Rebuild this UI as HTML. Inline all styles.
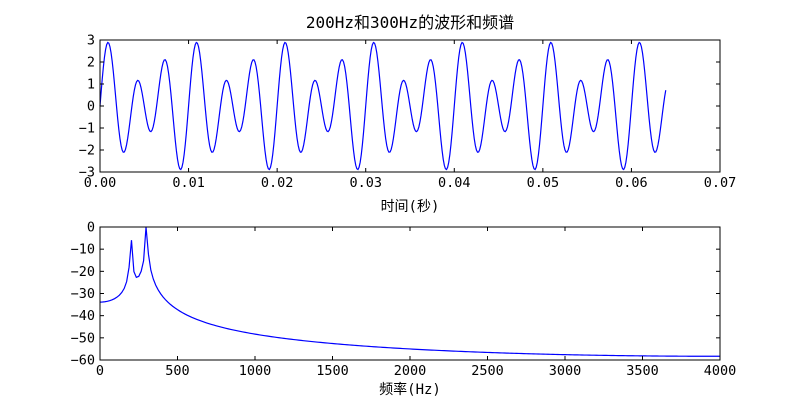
<!DOCTYPE html>
<html><head><meta charset="utf-8"><style>
body{margin:0;background:#fff;}
svg{display:block;font-family:"DejaVu Sans Mono","Liberation Mono","Noto Sans CJK SC",monospace;}
</style></head><body>
<svg id="s" width="800" height="400" xmlns="http://www.w3.org/2000/svg">
<rect width="800" height="400" fill="#fff"/>
<text x="410" y="28" font-size="16" text-anchor="middle" font-family="DejaVu Sans Mono,Noto Sans CJK SC,monospace">200Hz和300Hz的波形和频谱</text>
<g id="g"></g>
</svg>
<script>
var g=document.getElementById('g'),h='';
function ax(x0,y0,x1,y1,xt,xl,yt,yl,xs,ys){
  h+='<rect x="'+x0+'" y="'+y0+'" width="'+(x1-x0)+'" height="'+(y1-y0)+'" fill="none" stroke="#000" stroke-width="1"/>';
  xt.forEach(function(v,i){var x=xs(v);h+='<line x1="'+x+'" y1="'+y1+'" x2="'+x+'" y2="'+(y1-4)+'" stroke="#000"/><line x1="'+x+'" y1="'+y0+'" x2="'+x+'" y2="'+(y0+4)+'" stroke="#000"/>';
    h+='<text x="'+x+'" y="'+(y1+15)+'" font-size="13.5" text-anchor="middle">'+xl[i]+'</text>';});
  yt.forEach(function(v,i){var y=ys(v);h+='<line x1="'+x0+'" y1="'+y+'" x2="'+(x0+4)+'" y2="'+y+'" stroke="#000"/><line x1="'+x1+'" y1="'+y+'" x2="'+(x1-4)+'" y2="'+y+'" stroke="#000"/>';
    h+='<text x="'+(x0-5)+'" y="'+(y+4.5)+'" font-size="13.5" text-anchor="end">'+yl[i]+'</text>';});
}
var N=512,fs=8000,sig=[];
for(var n=0;n<N;n++){var t=n/fs;sig.push(Math.sin(2*Math.PI*200*t)+2*Math.sin(2*Math.PI*300*t));}
var xs1=function(t){return 100+t/0.07*620},ys1=function(v){return 106-v*22};
var p='';for(var n=0;n<N;n++)p+=(n?'L':'M')+xs1(n/fs).toFixed(2)+' '+ys1(sig[n]).toFixed(2);
h+='<path d="'+p+'" fill="none" stroke="#00f" stroke-width="1.2"/>';
ax(100,40,720,172,[0,.01,.02,.03,.04,.05,.06,.07],['0.00','0.01','0.02','0.03','0.04','0.05','0.06','0.07'],[3,2,1,0,-1,-2,-3],['3','2','1','0','\u22121','\u22122','\u22123'],xs1,ys1);
h+='<text x="410" y="211" font-size="14" text-anchor="middle">时间(秒)</text>';
var mag=[];for(var k=0;k<=256;k++){var re=0,im=0;for(var n=0;n<N;n++){var a=2*Math.PI*k*n/N;re+=sig[n]*Math.cos(a);im-=sig[n]*Math.sin(a);}mag.push(Math.sqrt(re*re+im*im)/N);}
var mx=Math.max.apply(null,mag);
var xs2=function(f){return 100+f/4000*620},ys2=function(d){return 227-d/60*133};
p='';for(var k=0;k<=256;k++){var d=20*Math.log10(Math.max(mag[k],1e-20)/mx);p+=(k?'L':'M')+xs2(k*fs/N).toFixed(2)+' '+ys2(d).toFixed(2);}
h+='<path d="'+p+'" fill="none" stroke="#00f" stroke-width="1.2"/>';
ax(100,227,720,360,[0,500,1000,1500,2000,2500,3000,3500,4000],['0','500','1000','1500','2000','2500','3000','3500','4000'],[0,-10,-20,-30,-40,-50,-60],['0','\u221210','\u221220','\u221230','\u221240','\u221250','\u221260'],xs2,ys2);
h+='<text x="410" y="394" font-size="14" text-anchor="middle">频率(Hz)</text>';
g.innerHTML=h;
</script>
</body></html>
